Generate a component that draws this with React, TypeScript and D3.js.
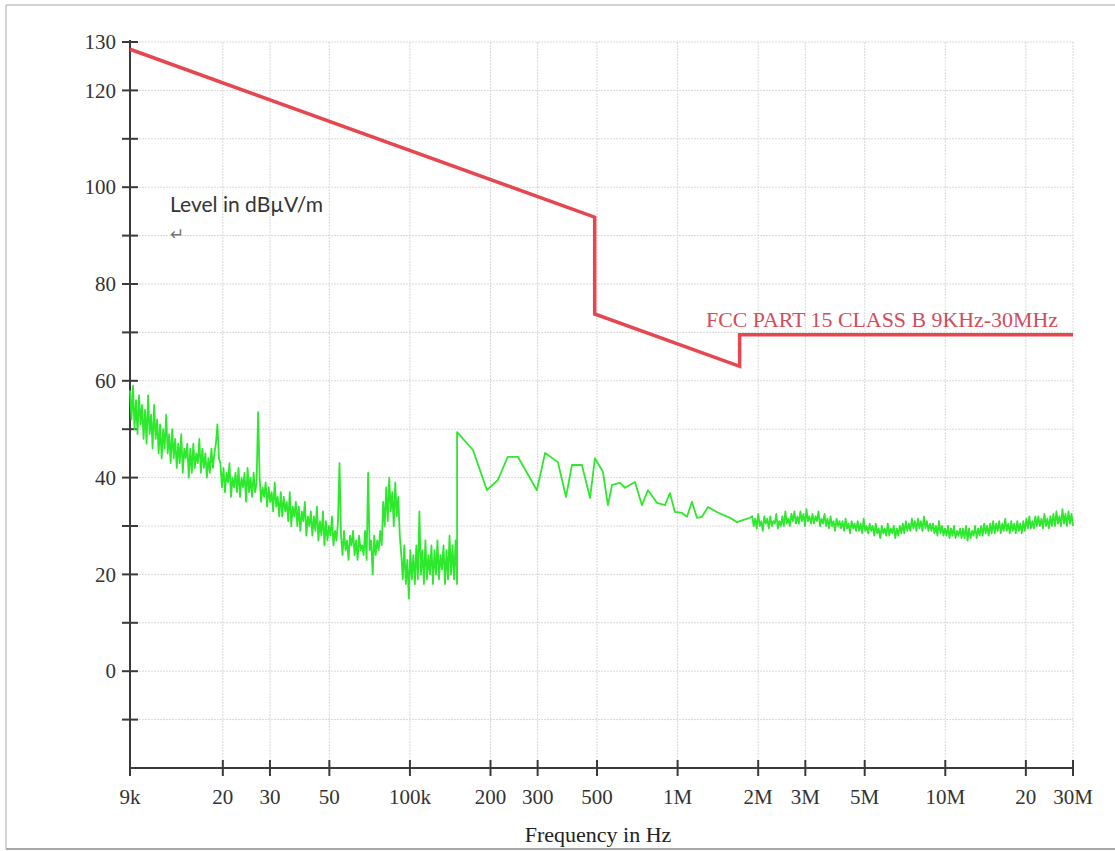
import React from 'react';
import * as d3 from 'd3';

// ---------- axis definitions ----------
const yGridValues = [-10, 0, 10, 20, 30, 40, 50, 60, 70, 80, 90, 100, 110, 120, 130];
const yTickValues = [-10, 0, 10, 20, 30, 40, 50, 60, 70, 80, 90, 100, 110, 120, 130];
const yTickLabels = [130, 120, 100, 80, 60, 40, 20, 0];
const xTickValues = [9e3, 2e4, 3e4, 5e4, 1e5, 2e5, 3e5, 5e5, 1e6, 2e6, 3e6, 5e6, 1e7, 2e7, 3e7];
const xTickLabels = ['9k', '20', '30', '50', '100k', '200', '300', '500', '1M', '2M', '3M', '5M', '10M', '20', '30M'];

// ---------- limit line (FCC Part 15 Class B) ----------
const limitFreq = [9e3, 490e3, 490e3, 1.705e6, 1.705e6, 30e6];
const limitLevel = [128.5, 93.8, 73.8, 63.0, 69.5, 69.5];

// ---------- measured trace ----------
// sweep 1: 9 kHz .. 150 kHz (dense sweep, log spaced)
const sweep1Start = 9e3;
const sweep1Stop = 150e3;
const sweep1Levels = [
  58, 52, 59, 50, 56, 49, 57, 51, 55, 48,
  54, 47, 57, 49, 53, 46, 55, 48, 52, 45,
  51, 44, 50, 46, 53, 45, 49, 43, 50, 44,
  48, 42, 47, 43, 49, 41, 46, 44, 47, 40,
  46, 41, 47, 42, 45, 43, 48, 41, 46, 42,
  45, 40, 44, 41, 46, 42, 45, 47, 51, 44,
  43, 38, 42, 37, 41, 39, 43, 36, 40, 38,
  41, 37, 42, 36, 40, 38, 41, 35, 42, 37,
  40, 36, 41, 37, 39, 53.5, 40, 35, 38, 36,
  39, 34, 38, 35, 37, 33, 39, 34, 36, 32,
  37, 32, 36, 33, 35, 31, 37, 30, 34, 32,
  35, 30, 34, 29, 33, 31, 35, 28, 32, 30,
  33, 28, 32, 29, 34, 27, 31, 28, 33, 26,
  31, 27, 30, 28, 32, 26, 29, 27, 31, 43,
  28, 24, 29, 25, 27, 23, 28, 26, 29, 24,
  27, 23, 28, 25, 26, 24, 29, 23, 41, 25,
  27, 20, 28, 24, 27, 25, 29, 26, 35, 30,
  38, 31, 40, 33, 37, 30, 39, 32, 36, 28,
  24, 19, 26, 18, 23, 15, 25, 19, 24, 18,
  26, 19, 33, 20, 25, 18, 27, 19, 24, 20,
  26, 18, 25, 20, 27, 19, 24, 21, 26, 18,
  25, 19, 28, 20, 26, 19, 27, 18,
];

// sweep 2: 150 kHz .. ~1.9 MHz (coarse points)
const sweep2Freq = [
  150e3, 172e3, 194e3, 213e3, 232e3, 253e3, 298e3, 320e3, 357e3, 383e3,
  403e3, 439e3, 471e3, 491e3, 526e3, 549e3, 569e3, 609e3, 636e3, 693e3,
  736e3, 775e3, 837e3, 897e3, 936e3, 977e3, 1.039e6, 1.084e6, 1.131e6, 1.181e6,
  1.233e6, 1.298e6, 1.402e6, 1.477e6, 1.569e6, 1.666e6, 1.754e6, 1.863e6,
];
const sweep2Level = [
  49.4, 45.7, 37.4, 39.5, 44.3, 44.3, 37.4, 45.1, 43.2, 36.0,
  42.6, 42.6, 35.8, 44.0, 41.2, 34.3, 38.5, 38.9, 37.9, 39.1,
  34.3, 37.4, 34.8, 34.3, 36.8, 32.9, 32.7, 31.9, 35.0, 31.7,
  31.9, 33.9, 32.9, 32.3, 31.7, 30.8, 31.2, 31.7,
];

// sweep 3: 1.9 MHz .. 30 MHz (dense sweep, log spaced)
const sweep3Start = 1.9e6;
const sweep3Stop = 30e6;
const sweep3Levels = [
  32, 30, 31.5, 29.5, 32.5, 30, 31, 29, 32, 30.5,
  31.5, 29.5, 32, 30, 31, 30.5, 32.5, 29.5, 31, 30,
  32, 30, 33, 30.5, 31.5, 30, 32.5, 31, 33, 30.5,
  32, 30.5, 33, 31, 32.5, 30, 33.5, 31, 32, 30.5,
  32.5, 30.5, 32, 31, 33, 30, 31.5, 30.5, 32.5, 30,
  31.5, 29.5, 32, 30, 31, 29, 31.5, 30, 31, 29.5,
  31, 29, 31.5, 29.5, 30.5, 28.5, 31, 29.5, 30.5, 29,
  31, 29, 30.5, 28.5, 31.5, 29, 30, 28.5, 30.5, 29,
  30, 28, 30.5, 28.5, 29.5, 27.5, 30, 28.5, 29.5, 28,
  30.5, 28, 29.5, 28.5, 30, 27.5, 29.5, 28, 30, 28.5,
  30.5, 28.5, 31, 29, 30.5, 29, 31.5, 29.5, 31, 29,
  31.5, 29.5, 31, 29, 32, 29.5, 31, 29, 30.5, 29,
  30.5, 28.5, 30, 28, 31, 28.5, 30, 28, 29.5, 28,
  30, 27.5, 29.5, 28, 30, 27.5, 29, 28, 29.5, 27.5,
  29.5, 27.5, 30, 27, 29.5, 27.5, 29, 28, 30, 27.5,
  29.5, 28, 30, 28, 30.5, 28.5, 30, 28, 30.5, 28.5,
  31, 28.5, 30.5, 29, 31, 28.5, 30.5, 29, 31.5, 29,
  30.5, 28.5, 31, 29, 30.5, 28.5, 31, 29, 30.5, 28.5,
  31, 29, 31.5, 29.5, 32, 29.5, 31, 29.5, 32, 30,
  32, 30, 31.5, 29.5, 32.5, 30, 31.5, 29.5, 32, 30,
  32.5, 30, 33, 30.5, 32, 30, 33.5, 30.5, 32.5, 30,
  33, 30.5, 32.5, 30,
];

const LIMIT_LABEL = 'FCC PART 15 CLASS B 9KHz-30MHz';

function sweepPoints(start: number, stop: number, levels: number[]): [number, number][] {
  const n = levels.length;
  const ls = Math.log10(start);
  const le = Math.log10(stop);
  return levels.map((v, i) => [Math.pow(10, ls + ((le - ls) * i) / (n - 1)), v]);
}

export default function App() {
  const W = 1115;
  const H = 851;
  const x = d3.scaleLog().domain([9e3, 30e6]).range([130, 1073]);
  const y = d3.scaleLinear().domain([-20, 130]).range([768, 42]);

  const line = d3
    .line<[number, number]>()
    .x((d) => x(d[0]))
    .y((d) => y(d[1]));

  const limitData: [number, number][] = limitFreq.map((f, i) => [f, limitLevel[i]]);
  const traceData: [number, number][] = [
    ...sweepPoints(sweep1Start, sweep1Stop, sweep1Levels),
    ...sweep2Freq.map((f, i) => [f, sweep2Level[i]] as [number, number]),
    ...sweepPoints(sweep3Start, sweep3Stop, sweep3Levels),
  ];

  const x0 = x.range()[0];
  const x1 = x.range()[1];
  const yTop = y(130);
  const yBot = y.range()[0];
  const serif = '"Liberation Serif", "Times New Roman", serif';

  return (
    <svg
      width={W}
      height={H}
      viewBox={`0 0 ${W} ${H}`}
      style={{ position: 'absolute', left: 0, top: 0, background: '#fff' }}
    >
      <rect x={0} y={0} width={W} height={H} fill="#ffffff" />
      {/* frame */}
      <line x1={6} y1={5} x2={W} y2={5} stroke="#c4c4c4" strokeWidth={1.5} />
      <line x1={6} y1={5} x2={6} y2={849} stroke="#c4c4c4" strokeWidth={1.5} />
      <line x1={6} y1={849} x2={W} y2={849} stroke="#a8a8a8" strokeWidth={2} />

      {/* grid */}
      <g stroke="#d8d8d8" strokeWidth={1} strokeDasharray="2,1">
        {yGridValues.map((v) => (
          <line key={'gy' + v} x1={x0} x2={x1} y1={y(v)} y2={y(v)} />
        ))}
        {xTickValues.slice(1).map((f) => (
          <line key={'gx' + f} x1={x(f)} x2={x(f)} y1={yTop} y2={yBot} />
        ))}
      </g>

      {/* axes */}
      <g stroke="#3a3a3a" strokeWidth={2}>
        <line x1={x0} x2={x0} y1={yTop - 2} y2={yBot} />
        <line x1={x0} x2={x1} y1={yBot} y2={yBot} />
        {yTickValues.map((v) => (
          <line key={'ty' + v} x1={x0 - 8} x2={x0 + 8} y1={y(v)} y2={y(v)} />
        ))}
        {xTickValues.map((f) => (
          <line key={'tx' + f} x1={x(f)} x2={x(f)} y1={yBot - 8} y2={yBot + 8} />
        ))}
      </g>

      {/* tick labels */}
      <g fontFamily={serif} fontSize={21} fill="#333">
        {yTickLabels.map((v) => (
          <text key={'ly' + v} x={x0 - 14} y={y(v)} dy="0.34em" textAnchor="end">
            {v}
          </text>
        ))}
        {xTickValues.map((f, i) => (
          <text key={'lx' + f} x={x(f)} y={804} textAnchor="middle">
            {xTickLabels[i]}
          </text>
        ))}
      </g>

      <text x={598} y={842} textAnchor="middle" fontFamily={serif} fontSize={22} fill="#222">
        Frequency in Hz
      </text>

      <text x={170} y={212} fontFamily='Lato, "Open Sans", sans-serif' fontSize={21} fill="#333" textLength={153} lengthAdjust="spacingAndGlyphs">
        Level in dBµV/m
      </text>
      <text x={170} y={240} fontFamily='"DejaVu Sans", sans-serif' fontSize={17} fill="#777">
        ↵
      </text>

      {/* measured trace */}
      <path d={line(traceData) || ''} fill="none" stroke="#2ee82e" strokeWidth={1.8} strokeLinejoin="round" />

      {/* limit */}
      <path d={line(limitData) || ''} fill="none" stroke="#e8464e" strokeWidth={3.5} strokeLinejoin="miter" />
      <text
        x={706}
        y={327}
        fontFamily={serif}
        fontSize={21}
        fill="#d24c5c"
        textLength={352}
        lengthAdjust="spacingAndGlyphs"
      >
        {LIMIT_LABEL}
      </text>
    </svg>
  );
}
